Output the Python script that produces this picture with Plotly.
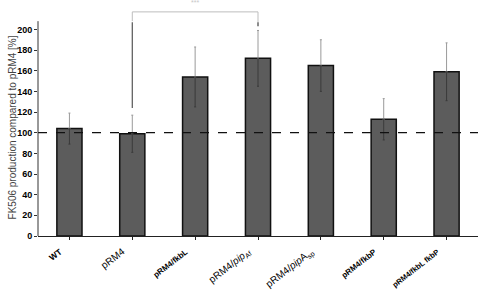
import plotly.graph_objects as go

categories = ["WT", "pRM4", "pRM4/fkbL", "pRM4/pipA_Af", "pRM4/pipA_sp", "pRM4/fkbP", "pRM4/fkbL fkbP"]
tick_labels = [
    "<b><span style='font-size:8.5px'>WT</span></b>",
    "pRM4",
    "<b><span style='font-size:8px'>pRM4/fkbL</span></b>",
    "pRM4/<i>pip</i><sub>Af</sub>",
    "pRM4/<i>pip</i>A<sub>sp</sub>",
    "<b><span style='font-size:8px'>pRM4/fkbP</span></b>",
    "<b><span style='font-size:7.5px'>pRM4/fkbL fkbP</span></b>",
]
values = [104, 99, 154, 172, 165, 113, 159]
errors = [15, 18, 29, 27, 25, 20, 28]
y_ticks = list(range(0, 201, 20))
y_title = "FK506 production compared to pRM4 [%]"
reference_level = 100
y_axis_top = 208
bracket_y = 217
sig_text = "***"

x_idx = list(range(len(categories)))

fig = go.Figure()
fig.add_trace(go.Bar(
    x=x_idx, y=values, width=0.4,
    marker=dict(color="#5c5c5c", line=dict(color="#111111", width=1.5)),
    showlegend=False,
))
# upper error part (light grey)
fig.add_trace(go.Scatter(
    x=x_idx, y=values, mode="markers", marker=dict(size=0.1, color="rgba(0,0,0,0)"),
    error_y=dict(type="data", symmetric=False, array=errors, arrayminus=[0]*len(errors),
                 color="#9a9a9a", thickness=1, width=1),
    showlegend=False, hoverinfo="skip",
))
# lower error part (dark)
fig.add_trace(go.Scatter(
    x=x_idx, y=values, mode="markers", marker=dict(size=0.1, color="rgba(0,0,0,0)"),
    error_y=dict(type="data", symmetric=False, array=[0]*len(errors), arrayminus=errors,
                 color="#3a3a3a", thickness=1, width=1),
    showlegend=False, hoverinfo="skip",
))

shapes = []
# dashed reference line
shapes.append(dict(type="line", xref="paper", yref="y", x0=0, x1=1, y0=reference_level, y1=reference_level,
                   line=dict(color="#111111", width=1.3, dash="dash")))
# y axis line
shapes.append(dict(type="line", xref="paper", yref="y", x0=0, x1=0, y0=0, y1=y_axis_top,
                   line=dict(color="#333333", width=1)))
# significance bracket
i1 = categories.index("pRM4")
i2 = categories.index("pRM4/pipA_Af")
shapes.append(dict(type="line", xref="x", yref="y", x0=i1, x1=i2, y0=bracket_y, y1=bracket_y,
                   line=dict(color="#bdbdbd", width=1)))
shapes.append(dict(type="line", xref="x", yref="y", x0=i1, x1=i1, y0=bracket_y, y1=208,
                   line=dict(color="#bdbdbd", width=1)))
shapes.append(dict(type="line", xref="x", yref="y", x0=i1, x1=i1, y0=207, y1=124,
                   line=dict(color="#555555", width=1.2)))
shapes.append(dict(type="line", xref="x", yref="y", x0=i2, x1=i2, y0=bracket_y, y1=207,
                   line=dict(color="#bdbdbd", width=1)))
shapes.append(dict(type="line", xref="x", yref="y", x0=i2, x1=i2, y0=207, y1=203,
                   line=dict(color="#666666", width=1.5)))

fig.update_layout(
    width=484, height=290,
    margin=dict(l=38, r=6, t=0, b=54, autoexpand=False),
    plot_bgcolor="white", paper_bgcolor="white",
    font=dict(family="Arial, Liberation Sans, sans-serif", color="#000000"),
    bargap=0.6,
    shapes=shapes,
    annotations=[
        dict(x=(i1 + i2) / 2, y=226, xref="x", yref="y", text=sig_text, showarrow=False,
             font=dict(size=7, color="#c8c8c8")),
        dict(x=0, y=0.46, xref="paper", yref="paper", xshift=-26, text=y_title, textangle=-90,
             showarrow=False, xanchor="center", yanchor="middle",
             font=dict(size=10, color="#444444")),
    ],
    xaxis=dict(
        tickmode="array", tickvals=x_idx, ticktext=tick_labels, tickangle=-38,
        range=[-0.5, len(categories) - 0.5],
        showline=True, linecolor="#222222", linewidth=1,
        ticks="outside", ticklen=3, tickcolor="#222222", tickson="boundaries",
        tickfont=dict(size=10, color="#000000"),
        ticklabelstandoff=2, ticklabelshift=-10,
        automargin=False,
        showgrid=False, zeroline=False,
    ),
    yaxis=dict(
        range=[0, 228.5], tickvals=y_ticks,
        showline=False, ticks="outside", ticklen=3, tickcolor="#333333",
        tickfont=dict(size=9, color="#000000", weight="bold"),
        showgrid=False, zeroline=False, automargin=False,
    ),
)

fig.write_html("out.html")
